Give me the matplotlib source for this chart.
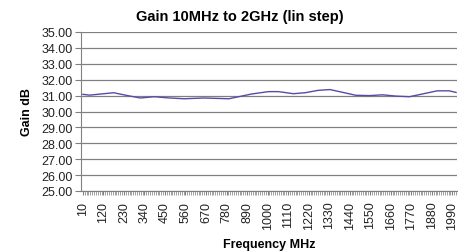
import matplotlib
matplotlib.use("Agg")
import matplotlib.pyplot as plt
import numpy as np

plt.rcParams['font.family'] = ['Liberation Sans', 'DejaVu Sans']

freq_mhz = [10, 47, 106, 175, 250, 318, 393, 462, 553, 659, 792, 845, 914, 1005,
            1058, 1138, 1201, 1271, 1334, 1404, 1473, 1547, 1616, 1686, 1760, 1829,
            1909, 1973, 2010]
gain_db = [31.08, 31.03, 31.10, 31.18, 31.00, 30.85, 30.93, 30.86, 30.80, 30.85,
           30.80, 30.93, 31.10, 31.25, 31.25, 31.12, 31.18, 31.33, 31.38, 31.20,
           31.02, 31.00, 31.05, 30.97, 30.93, 31.10, 31.30, 31.30, 31.20]
x_tick_labels = [10, 120, 230, 340, 450, 560, 670, 780, 890, 1000, 1110, 1220,
                 1330, 1440, 1550, 1660, 1770, 1880, 1990]
y_ticks = [25, 26, 27, 28, 29, 30, 31, 32, 33, 34, 35]

fig = plt.figure(figsize=(4.58, 2.53), dpi=100)
ax = fig.add_axes([81/458, 1-192/253, (457-81)/458, (192-33)/253])

ax.plot(freq_mhz, gain_db, color='#5a4aa8', lw=1.0)

ax.set_xlim(0, 2015)
ax.set_ylim(25, 35)
ax.set_yticks(y_ticks)
ax.set_yticklabels([f"{v:.2f}" for v in y_ticks], fontsize=9, color='#222222')
ax.set_xticks(x_tick_labels)
ax.set_xticklabels([str(v) for v in x_tick_labels], rotation=90, fontsize=9, color='#222222')
ax.set_xticks(np.arange(10, 2011, 10), minor=True)
ax.tick_params(axis='x', which='major', length=3, color='#808080', pad=4)
ax.tick_params(axis='x', which='minor', length=3, color='#909090', width=0.6)
ax.tick_params(axis='y', length=4, color='#808080', pad=2)

ax.grid(axis='y', color='#808080', lw=0.9)
ax.set_axisbelow(True)
for s in ['top', 'right']:
    ax.spines[s].set_visible(False)
ax.spines['left'].set_color('#808080')
ax.spines['bottom'].set_color('#808080')

fig.text(240/458, 1-16.5/253, "Gain 10MHz to 2GHz (lin step)", fontsize=10.5,
         fontweight='bold', ha='center', va='center')
ax.set_ylabel("Gain dB", fontsize=9, fontweight='bold', labelpad=6)
ax.set_xlabel("Frequency MHz", fontsize=9, fontweight='bold', labelpad=7)

fig.savefig("out.png", dpi=100)
